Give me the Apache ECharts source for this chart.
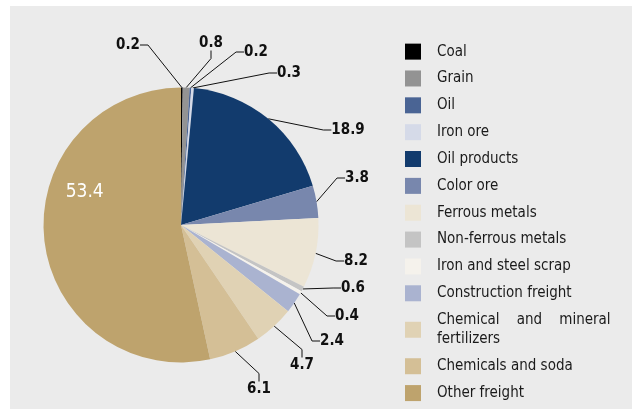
<!DOCTYPE html>
<html>
<head>
<meta charset="utf-8">
<script src="https://cdn.jsdelivr.net/npm/echarts@6/dist/echarts.min.js"></script>
<style>
  html, body { margin: 0; padding: 0; background: #fff; }
  #panel { position: absolute; left: 10px; top: 6px; width: 622px; height: 403px; background: #ebebeb; }
  #chart { position: absolute; left: 0; top: 0; width: 634px; height: 409px; }
</style>
</head>
<body>
<div id="panel"></div>
<div id="chart"></div>
<script>
// freight structure, %
const categories = [
  'Coal', 'Grain', 'Oil', 'Iron ore', 'Oil products', 'Color ore',
  'Ferrous metals', 'Non-ferrous metals', 'Iron and steel scrap',
  'Construction freight', 'Chemical and mineral fertilizers',
  'Chemicals and soda', 'Other freight'
];
const shares = [0.2, 0.8, 0.2, 0.3, 18.9, 3.8, 8.2, 0.6, 0.4, 2.4, 4.7, 6.1, 53.4];
const colors = [
  '#000000', '#939393', '#4a6494', '#d5dae8', '#123b6d', '#7887ad',
  '#ece5d5', '#c4c4c4', '#f5f2ec', '#aab3d0', '#e0d2b4', '#d4bf96', '#bea36d'
];

// where the outside labels sit (label centres), same order as categories
const labelSpots = [
  [128, 45], [211, 43], [256, 52], [289, 73], [348, 130], [357, 178],
  [356, 261], [353, 288], [347, 316], [332, 341], [302, 365], [259, 389], null
];

const chart = echarts.init(document.getElementById('chart'));

const pieData = categories.map((name, i) => {
  const d = { name: name, value: shares[i], itemStyle: { color: colors[i] } };
  if (name === 'Other freight') {
    d.label = {
      position: 'inside', color: '#fff', fontWeight: 'normal',
      fontSize: 19, offset: [-25, -41]
    };
    d.labelLine = { show: false };
  }
  return d;
});

chart.setOption({
  animation: false,
  legend: {
    orient: 'vertical',
    left: 400,
    top: 37,
    height: 380,
    icon: 'rect',
    itemWidth: 16,
    itemHeight: 16,
    itemGap: 7.6,
    formatter: function (name) {
      return name === 'Chemical and mineral fertilizers'
        ? 'Chemical    and    mineral\nfertilizers' : name;
    },
    textStyle: {
      fontFamily: 'DejaVu Sans Condensed',
      fontSize: 15,
      color: '#1a1a1a',
      lineHeight: 19.25,
      padding: [0, 0, 0, 11]
    },
    data: categories
  },
  series: [{
    type: 'pie',
    center: [181, 225],
    radius: 137.5,
    startAngle: 90,
    clockwise: true,
    avoidLabelOverlap: false,
    label: {
      show: true,
      position: 'outside',
      formatter: '{c}',
      fontFamily: 'DejaVu Sans Condensed',
      fontWeight: 'bold',
      fontSize: 15,
      color: '#111'
    },
    labelLine: {
      show: true,
      length: 12,
      length2: 8,
      lineStyle: { color: '#111', width: 1 }
    },
    labelLayout: function (p) {
      const spot = labelSpots[p.dataIndex];
      if (!spot) return {};
      return { x: spot[0], y: spot[1], align: 'center', verticalAlign: 'middle' };
    },
    emphasis: { disabled: true },
    data: pieData
  }]
});
</script>
</body>
</html>
